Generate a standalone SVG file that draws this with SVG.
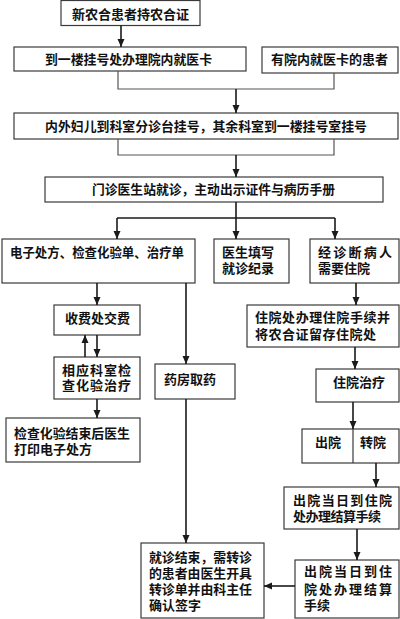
<svg xmlns="http://www.w3.org/2000/svg" width="400" height="619" viewBox="0 0 400 619">
<defs>
<marker id="ah" markerUnits="userSpaceOnUse" markerWidth="8" markerHeight="8" refX="8" refY="4" orient="auto">
<path d="M0,0.5 L8,4 L0,7.5 z" fill="#1a1a1a"/>
</marker>
</defs>
<style>
rect{fill:#fff;stroke:#3a3a3a;stroke-width:1.2}
text{font-family:"Noto Sans CJK SC","Noto Sans CJK JP",sans-serif;font-size:13px;font-weight:700;fill:#111}
.c line,.c polyline{stroke:#1a1a1a;stroke-width:1.6;fill:none}
.c polyline.m{stroke:#555;stroke-width:1.2}
.a{marker-end:url(#ah)}
</style>
<rect x="0" y="0" width="400" height="619" style="fill:#fff;stroke:none"/>
<g id="n1"><rect x="61" y="0.5" width="139" height="25"/><text x="72" y="19" textLength="117" lengthAdjust="spacingAndGlyphs">新农合患者持农合证</text></g>
<g id="n2"><rect x="14" y="47" width="232" height="24"/><text x="45" y="64" textLength="167" lengthAdjust="spacingAndGlyphs">到一楼挂号处办理院内就医卡</text></g>
<g id="n3"><rect x="262" y="47" width="136" height="26"/><text x="271" y="64" textLength="117" lengthAdjust="spacingAndGlyphs">有院内就医卡的患者</text></g>
<g id="n4"><rect x="14" y="113" width="384" height="26"/><text x="45" y="131" textLength="322" lengthAdjust="spacingAndGlyphs">内外妇儿到科室分诊台挂号，其余科室到一楼挂号室挂号</text></g>
<g id="n5"><rect x="45" y="177" width="338" height="25"/><text x="92" y="194" textLength="243" lengthAdjust="spacingAndGlyphs">门诊医生站就诊，主动出示证件与病历手册</text></g>
<g id="n6"><rect x="2" y="239" width="193" height="44"/><text x="10" y="257" textLength="174" lengthAdjust="spacingAndGlyphs">电子处方、检查化验单、治疗单</text></g>
<g id="n7"><rect x="214" y="239" width="75" height="44"/><text x="222" y="257">医生填写</text><text x="222" y="273">就诊纪录</text></g>
<g id="n8"><rect x="310" y="239" width="89" height="44"/><text x="318" y="257" textLength="74" lengthAdjust="spacing">经诊断病人</text><text x="318" y="273">需要住院</text></g>
<g id="n9"><rect x="54" y="305" width="86" height="30"/><text x="65" y="323">收费处交费</text></g>
<g id="n10"><rect x="54" y="357" width="86" height="42"/><text x="62" y="375" textLength="69" lengthAdjust="spacing">相应科室检</text><text x="62" y="390" textLength="69" lengthAdjust="spacing">查化验治疗</text></g>
<g id="n11"><rect x="6" y="418" width="134" height="44"/><text x="14" y="438" textLength="116" lengthAdjust="spacingAndGlyphs">检查化验结束后医生</text><text x="14" y="454">打印电子处方</text></g>
<g id="n12"><rect x="155" y="364" width="80" height="35"/><text x="164" y="384">药房取药</text></g>
<g id="n13"><rect x="247" y="305" width="152" height="42"/><text x="255" y="322" textLength="135" lengthAdjust="spacing">住院处办理住院手续并</text><text x="255" y="339" textLength="121" lengthAdjust="spacing">将农合证留存住院处</text></g>
<g id="n14"><rect x="316" y="369" width="83" height="33"/><text x="333" y="387">住院治疗</text></g>
<g id="n15"><rect x="302" y="429" width="97" height="34"/><line x1="353" y1="429" x2="353" y2="463" stroke="#3a3a3a" stroke-width="1.2"/><text x="315" y="447">出院</text><text x="360" y="447">转院</text></g>
<g id="n16"><rect x="284" y="487" width="115" height="42"/><text x="293" y="505" textLength="99" lengthAdjust="spacing">出院当日到住院</text><text x="293" y="521" textLength="88" lengthAdjust="spacing">处办理结算手续</text></g>
<g id="n17"><rect x="295" y="560" width="104" height="58"/><text x="304" y="576" textLength="88" lengthAdjust="spacing">出院当日到住</text><text x="304" y="594" textLength="88" lengthAdjust="spacing">院处办理结算</text><text x="304" y="610">手续</text></g>
<g id="n18"><rect x="141" y="543" width="123" height="75"/><text x="149" y="562" textLength="103" lengthAdjust="spacingAndGlyphs">就诊结束，需转诊</text><text x="149" y="578" textLength="103" lengthAdjust="spacingAndGlyphs">的患者由医生开具</text><text x="149" y="594" textLength="103" lengthAdjust="spacingAndGlyphs">转诊单并由科主任</text><text x="149" y="610">确认签字</text></g>
<g class="c" id="connectors">
<line class="a" x1="121" y1="25.5" x2="121" y2="47"/>
<polyline class="m" points="118,71 118,89 334,89 334,73"/>
<line class="a" x1="236" y1="89" x2="236" y2="113"/>
<polyline class="m" points="118,139 118,155 334,155 334,139"/>
<line class="a" x1="236" y1="155" x2="236" y2="177"/>
<line x1="236" y1="202" x2="236" y2="218"/>
<line x1="117" y1="218" x2="335" y2="218"/>
<line class="a" x1="117" y1="218" x2="117" y2="239"/>
<line class="a" x1="236" y1="218" x2="236" y2="239"/>
<line class="a" x1="335" y1="218" x2="335" y2="239"/>
<line class="a" x1="97" y1="283" x2="97" y2="305"/>
<line class="a" x1="186" y1="283" x2="186" y2="364"/>
<line class="a" x1="356" y1="283" x2="356" y2="305"/>
<line class="a" x1="85" y1="357" x2="85" y2="335"/>
<line class="a" x1="97" y1="335" x2="97" y2="357"/>
<line class="a" x1="97" y1="399" x2="97" y2="418"/>
<line class="a" x1="186" y1="399" x2="186" y2="543"/>
<line class="a" x1="355" y1="347" x2="355" y2="369"/>
<line class="a" x1="353" y1="402" x2="353" y2="429"/>
<line class="a" x1="376" y1="463" x2="376" y2="487"/>
<line class="a" x1="357" y1="529" x2="357" y2="560"/>
<line class="a" x1="295" y1="586" x2="264" y2="586"/>
</g>
</svg>
